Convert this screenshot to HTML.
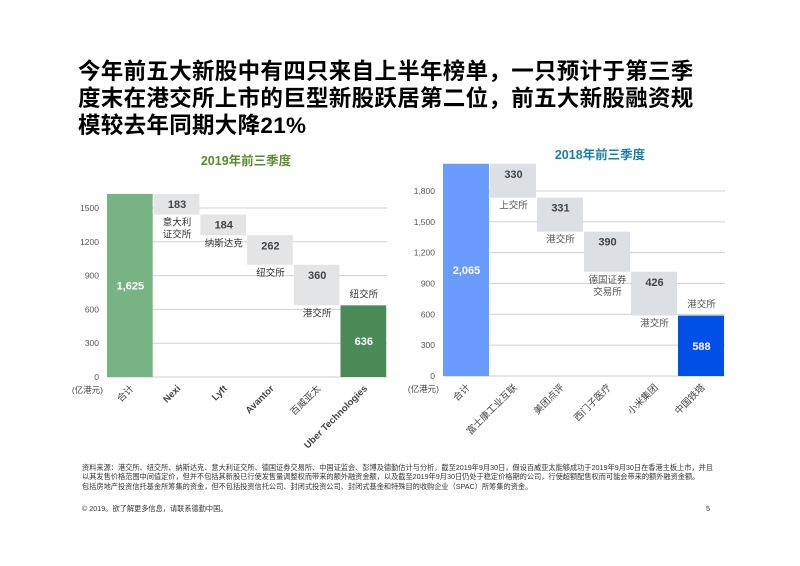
<!DOCTYPE html>
<html><head><meta charset="utf-8"><style>
body{margin:0;width:800px;height:566px;background:#fff;overflow:hidden;font-family:"Liberation Sans","Noto Sans CJK SC",sans-serif;}
#title{position:absolute;left:78px;top:58px;font-size:22.5px;font-weight:bold;line-height:27px;color:#000;letter-spacing:0.3px}
svg{position:absolute;left:0;top:0}
.foot{position:absolute;left:82px;font-size:7.2px;color:#333;line-height:9.3px;width:636px}
</style></head><body>
<div id="title">今年前五大新股中有四只来自上半年榜单，一只预计于第三季<br>度末在港交所上市的巨型新股跃居第二位，前五大新股融资规<br>模较去年同期大降21%</div>
<svg id="chart" width="800" height="566"></svg>
<div class="foot" style="top:463px">资料来源：港交所、纽交所、纳斯达克、意大利证交所、德国证券交易所、中国证监会、彭博及德勤估计与分析，截至2019年9月30日，假设百威亚太能够成功于2019年9月30日在香港主板上市，并且以其发售价格范围中间值定价，但并不包括其新股已行使发售量调整权而带来的额外融资金额，以及截至2019年9月30日仍处于稳定价格期的公司，行使超额配售权而可能会带来的额外融资金额。<br>包括房地产投资信托基金所筹集的资金，但不包括投资信托公司、封闭式投资公司、封闭式基金和特殊目的收购企业（SPAC）所筹集的资金。</div>
<div class="foot" style="top:504px">© 2019。欲了解更多信息，请联系德勤中国。</div>
<div class="foot" style="top:504px;left:706px;width:20px">5</div>
<script>
const cats19=["合计","Nexi","Lyft","Avantor","百威亚太","Uber Technologies"];
const vals19=[1625,183,184,262,360,636];
const exch19=["","意大利\n证交所","纳斯达克","纽交所","港交所","纽交所"];
const ticks19=[0,300,600,900,1200,1500];
const tickLabels19=["0","300","600","900","1200","1500"];
const cats18=["合计","富士康工业互联","美团点评","西门子医疗","小米集团","中国铁塔"];
const vals18=[2065,330,331,390,426,588];
const exch18=["","上交所","港交所","德国证券\n交易所","港交所","港交所"];
const ticks18=[0,300,600,900,1200,1500,1800];
const tickLabels18=["0","300","600","900","1,200","1,500","1,800"];
const NS="http://www.w3.org/2000/svg";
const svg=document.getElementById('chart');
function mk(t,a,txt){const e=document.createElementNS(NS,t);for(const k in a)e.setAttribute(k,a[k]);if(txt!==undefined)e.textContent=txt;svg.appendChild(e);return e;}
function draw(o){
  const y=v=>o.y0-v*o.k, bw=o.bw;
  const t=mk('text',{x:o.titleX,y:o.titleY,'text-anchor':'middle','font-size':12.5,'font-weight':'bold',fill:o.titleColor},o.title);
  
  o.ticks.forEach((v,i)=>{
    if(v>0){const g=mk('line',{x1:o.x0,x2:o.x0+6*bw,y1:y(v),y2:y(v),stroke:'#d0d0d0','stroke-width':1});
    }
    const l=mk('text',{x:o.x0-8,y:y(v)+3,'text-anchor':'end','font-size':8.5,fill:'#555'},o.tickLabels[i]);
    
  });
  const ax=mk('line',{x1:o.x0,x2:o.x0+6*bw,y1:o.y0,y2:o.y0,stroke:'#ccc','stroke-width':1});
  
  let top=o.vals[0];
  o.vals.forEach((v,i)=>{
    const x=o.x0+i*bw;let y1,y2,fill,tc;
    if(i===0){y1=y(v);y2=o.y0;fill=o.c1;tc='#fff';}
    else if(i===o.vals.length-1){y1=y(v);y2=o.y0;fill=o.c2;tc='#fff';}
    else{y1=y(top);y2=y(top-v);top-=v;fill=o.cf;tc='#444';}
    const r=mk('rect',{x:x,y:y1,width:bw-1,height:y2-y1,fill:fill});
    
    const ly=(i===0)?(y1+y2)/2+4:(i===o.vals.length-1?(y1+y2)/2+4:y1+14);
    const lt=mk('text',{x:x+bw/2,y:ly,'text-anchor':'middle','font-size':11,'font-weight':'bold',fill:tc},v.toLocaleString('en-US'));
    
    if(o.exch[i]){
      const lines=o.exch[i].split('\n');
      const base=(i===o.vals.length-1)?y1-8-(lines.length-1)*12:y2+11;
      lines.forEach((s,j)=>{const e=mk('text',{x:x+bw/2,y:base+j*12,'text-anchor':'middle','font-size':9.5,fill:o.ec},s);
        });
    }
    const cx=x+bw/2+4,cy=o.y0+12;
    const c=mk('text',{x:cx,y:cy,'text-anchor':'end','font-size':9.5,'font-weight':o.boldCats&&i>0&&i!==4?'bold':'normal',fill:'#444',transform:`rotate(-45 ${cx} ${cy})`},o.cats[i]);
    
  });
  const u=mk('text',{x:o.x0-4,y:o.y0+16,'text-anchor':'end','font-size':8.5,fill:'#444'},'(亿港元)');
  
}
draw({id:'chart-2019',title:'2019年前三季度',titleX:246,titleY:165,titleColor:'#5a8a2e',x0:107,y0:377,k:169/1500,bw:46.7,
  vals:vals19,cats:cats19,exch:exch19,ticks:ticks19,tickLabels:tickLabels19,c1:'#77b383',c2:'#4a8a57',cf:'#e3e4e6',ec:'#333',boldCats:true});
draw({id:'chart-2018',title:'2018年前三季度',titleX:600,titleY:159,titleColor:'#1a7fa8',x0:443,y0:376,k:185/1800,bw:47,
  vals:vals18,cats:cats18,exch:exch18,ticks:ticks18,tickLabels:tickLabels18,c1:'#6a9bff',c2:'#0050e8',cf:'#dcdfe4',ec:'#555',boldCats:false});
</script>
</body></html>
